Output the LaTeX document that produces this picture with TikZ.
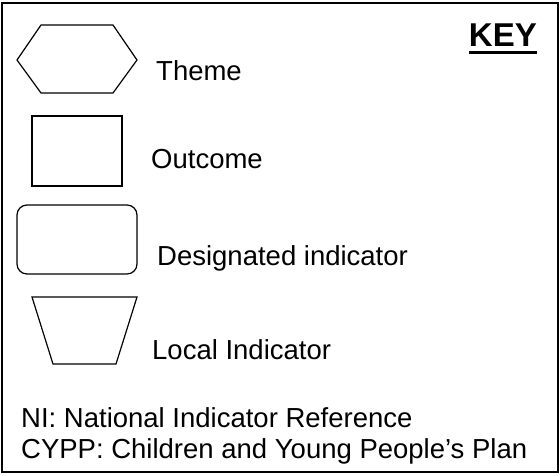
\documentclass[tikz,border=0pt]{standalone}
\usepackage{fontspec}
\setmainfont{Liberation Sans}
\begin{document}
\begin{tikzpicture}[x=1pt,y=-1pt,
  shp/.style={draw,line width=1.2pt,line join=miter},
  lbl/.style={anchor=base west,inner sep=0pt,font=\fontsize{27.5}{32}\selectfont}]
\useasboundingbox (0,0) rectangle (560,475);
\draw[line width=1.4pt] (2,3) rectangle (558,472);
\node[anchor=base east,inner sep=0pt,font=\bfseries\fontsize{33}{36}\selectfont] (key) at (537,46) {KEY};
\draw[line width=3pt] ([yshift=-6pt]key.south west) -- ([yshift=-6pt]key.south east);
\draw[shp] (17,60) -- (41,25) -- (113,25) -- (137,60) -- (113,93) -- (41,93) -- cycle;
\node[lbl] (theme) at (156,80) {Theme};
\draw[shp] (32,116) rectangle (122,186);
\node[lbl] (outcome) at (151,168) {Outcome};
\draw[shp,rounded corners=10pt] (17,205) rectangle (137,274);
\node[lbl] (desig) at (157,265) {Designated indicator};
\draw[shp] (32,297) -- (137,297) -- (116,364) -- (53,364) -- cycle;
\node[lbl] (local) at (152,359) {Local Indicator};
\node[lbl] (ni) at (21,427) {NI: National Indicator Reference};
\node[lbl] (cypp) at (21,458) {CYPP: Children and Young People’s Plan};
\end{tikzpicture}
\end{document}
